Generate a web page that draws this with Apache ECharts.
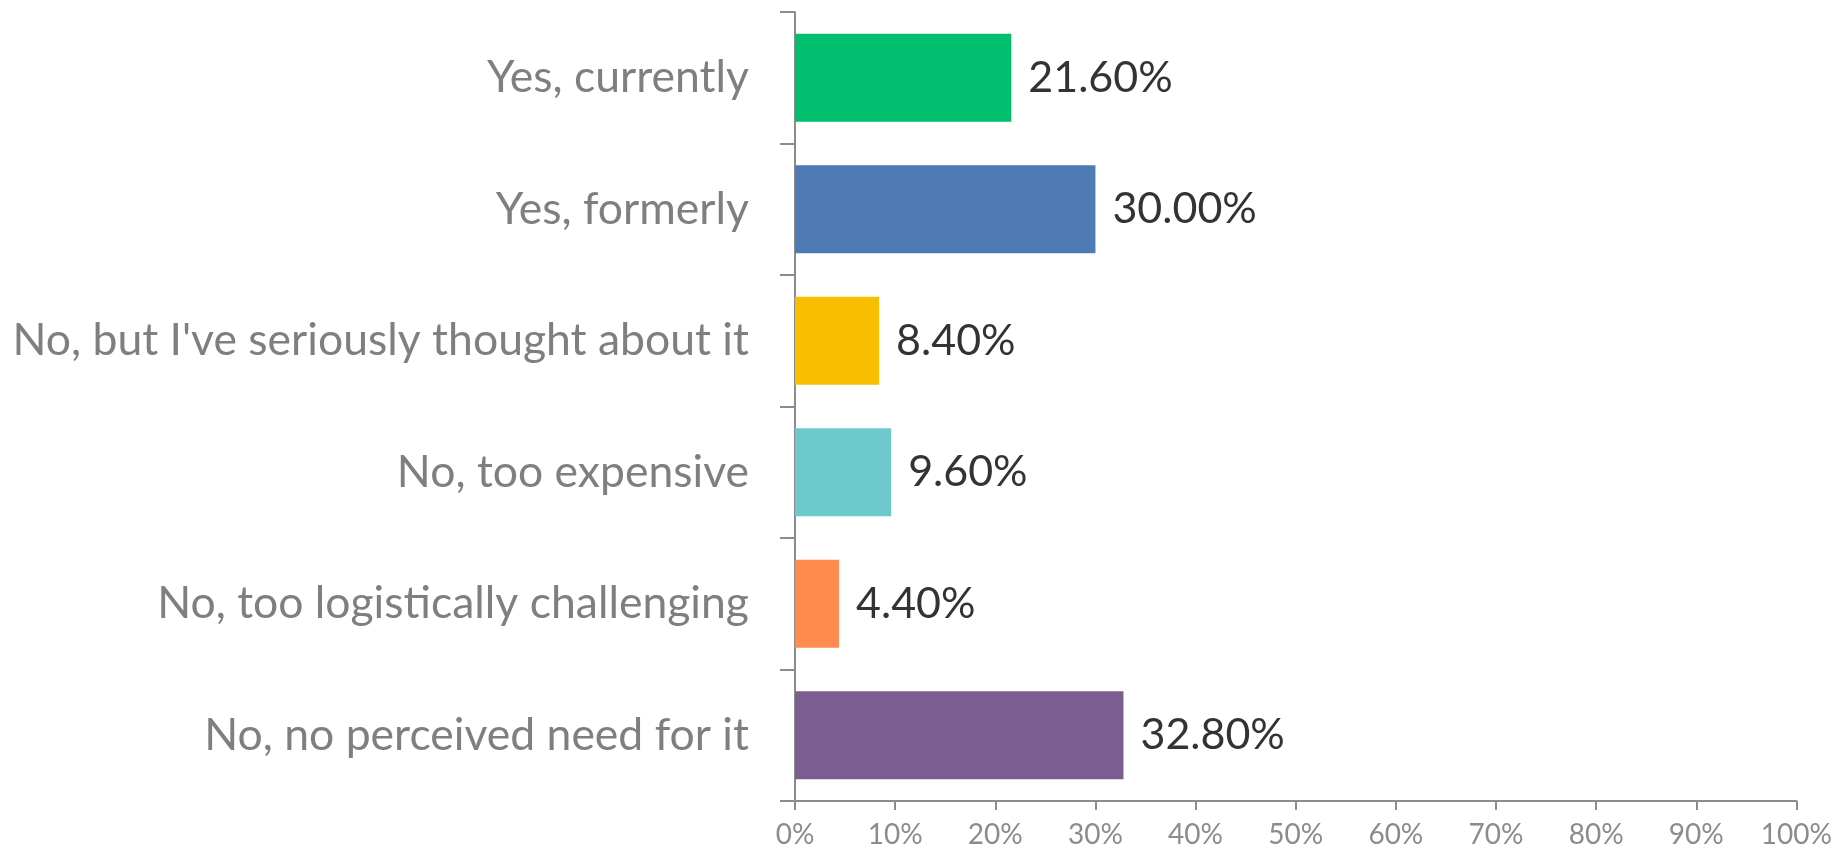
<!DOCTYPE html>
<html>
<head>
<meta charset="utf-8">
<style>
  html, body { margin: 0; padding: 0; background: #fff; }
  #chart { width: 1835px; height: 850px; }
</style>
<script src="https://cdn.jsdelivr.net/npm/echarts@6/dist/echarts.min.js"></script>
</head>
<body>
<div id="chart"></div>
<script>
// answers, top to bottom
var categories = [
    "Yes, currently",
    "Yes, formerly",
    "No, but I've seriously thought about it",
    "No, too expensive",
    "No, too logistically challenging",
    "No, no perceived need for it"
];
var shares = [21.6, 30.0, 8.4, 9.6, 4.4, 32.8];
var barColors = ['#00BF6F', '#4E7BB4', '#F9BE00', '#6CC8CB', '#FF8B4F', '#7B5E8F'];
var tickMax = 100;
var tickStep = 10;

var myChart = echarts.init(document.getElementById('chart'));

var option = {
    animation: false,
    textStyle: { fontFamily: 'Lato' },
    grid: { left: 795, right: 32, top: 12, bottom: 49, containLabel: false },
    xAxis: {
        type: 'value',
        min: 0,
        max: tickMax,
        interval: tickStep,
        splitLine: { show: false },
        axisLine: { show: true, lineStyle: { color: '#8c8c8c', width: 2 } },
        axisTick: { show: true, length: 9, lineStyle: { color: '#8c8c8c', width: 2 } },
        axisLabel: {
            color: '#8c8c8c',
            fontSize: 28,
            margin: 20,
            formatter: '{value}%'
        }
    },
    yAxis: {
        type: 'category',
        inverse: true,
        data: categories,
        axisLine: { show: true, onZero: false, lineStyle: { color: '#8c8c8c', width: 2 } },
        axisTick: { show: true, length: 15, lineStyle: { color: '#8c8c8c', width: 2 } },
        axisLabel: {
            color: '#7f7f7f',
            fontSize: 44.5,
            margin: 46
        }
    },
    series: [{
        type: 'bar',
        barCategoryGap: '33%',
        data: shares.map(function (v, i) {
            return { value: v, itemStyle: { color: barColors[i] } };
        }),
        label: {
            show: true,
            position: 'right',
            distance: 17,
            color: '#333333',
            fontSize: 43,
            formatter: function (p) { return p.value.toFixed(2) + '%'; }
        }
    }]
};

myChart.setOption(option);

window.addEventListener("resize", function () {
    myChart.resize();
});
</script>
</body>
</html>
